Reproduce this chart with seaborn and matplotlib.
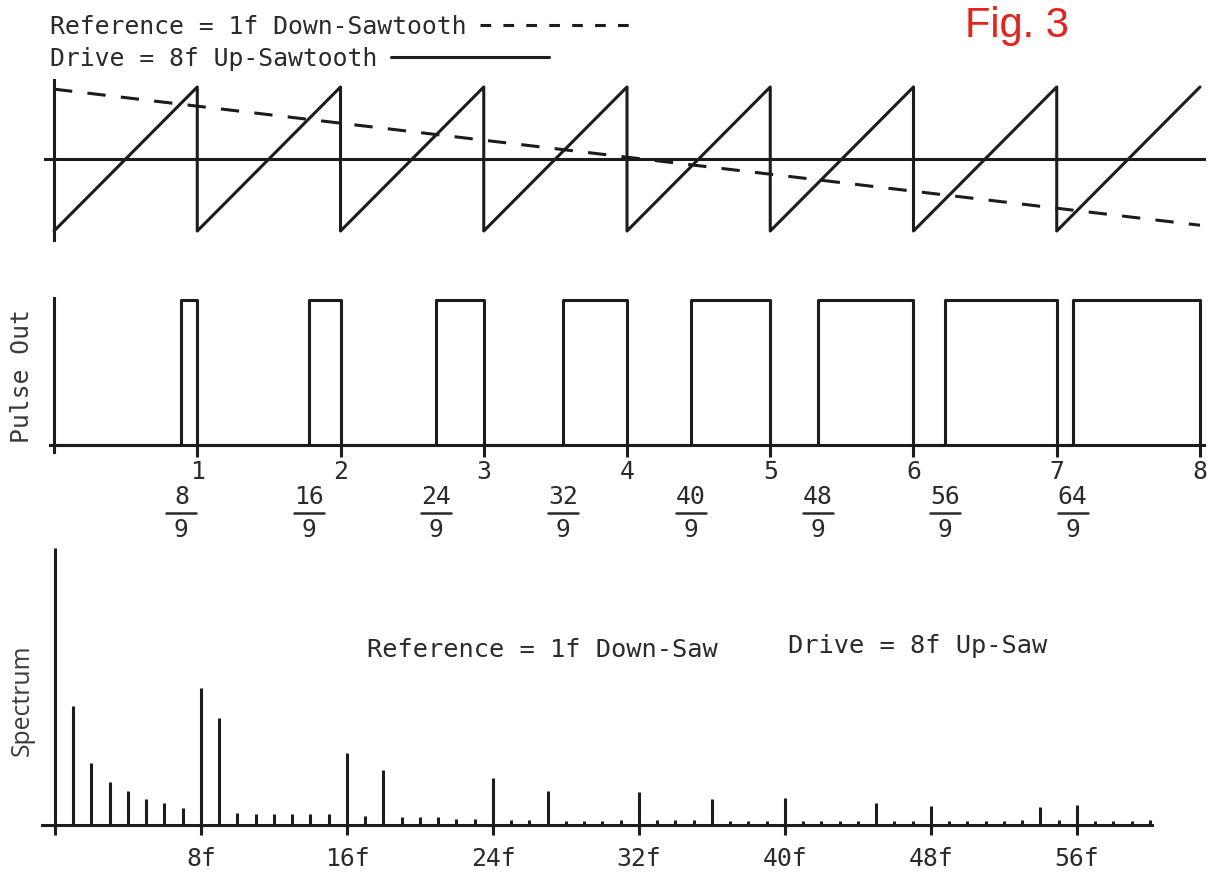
import numpy as np
import pandas as pd
import matplotlib
matplotlib.use("Agg")
import matplotlib.pyplot as plt
import seaborn as sns
from matplotlib.lines import Line2D
from matplotlib.transforms import blended_transform_factory

# ---------------- data ----------------
cycle_edges = [0, 1, 2, 3, 4, 5, 6, 7, 8]      # drive (8f up-saw) cycle boundaries
drive_low = -1.0
drive_high = 1.0
ref_x = [0, 8]                                  # reference (1f down-saw)
ref_y = [0.97, -0.92]

pulse_start = [8/9, 16/9, 24/9, 32/9, 40/9, 48/9, 56/9, 64/9]
pulse_end = [1, 2, 3, 4, 5, 6, 7, 8]
pulse_ticks = [1, 2, 3, 4, 5, 6, 7, 8]
frac_num = ["8", "16", "24", "32", "40", "48", "56", "64"]
frac_den = ["9", "9", "9", "9", "9", "9", "9", "9"]

harmonic = list(range(0, 61))
amplitude = [1.00, 0.43, 0.224, 0.155, 0.123, 0.094, 0.079, 0.061,
             0.495, 0.386, 0.043, 0.040, 0.040, 0.040, 0.040, 0.040,
             0.260, 0.033, 0.199, 0.030, 0.030, 0.028, 0.022, 0.020,
             0.170, 0.018, 0.018, 0.123, 0.016, 0.016, 0.016, 0.018,
             0.119, 0.018, 0.018, 0.018, 0.094, 0.016, 0.016, 0.016,
             0.097, 0.016, 0.016, 0.016, 0.016, 0.079, 0.016, 0.016,
             0.069, 0.016, 0.016, 0.016, 0.016, 0.018, 0.065, 0.018,
             0.072, 0.016, 0.016, 0.016, 0.018]
spec_ticks = [0, 8, 16, 24, 32, 40, 48, 56]
spec_labels = ["", "8f", "16f", "24f", "32f", "40f", "48f", "56f"]

legend_labels = ["Reference = 1f Down-Sawtooth", "Drive = 8f Up-Sawtooth"]
spectrum_note_ref = "Reference = 1f Down-Saw"
spectrum_note_drv = "Drive = 8f Up-Saw"

# ---------------- style ----------------
sns.set_theme(style="white")
MONO = ["DejaVu Sans Mono"]
plt.rcParams["font.family"] = MONO
INK = "#1c1c1c"
TXT = "#2a2a2a"
LW = 2.2
FS = 17.8

W, H = 1216, 876
fig = plt.figure(figsize=(W / 100, H / 100), dpi=100)
fig.patch.set_facecolor("white")


def rect(left, top, right, bottom):
    return [left / W, 1 - bottom / H, (right - left) / W, (bottom - top) / H]


# ---------------- top: waveforms ----------------
ax1 = fig.add_axes(rect(44, 80, 1206, 240))
saw_x, saw_y = [], []
for a, b in zip(cycle_edges[:-1], cycle_edges[1:]):
    saw_x += [a, b]
    saw_y += [drive_low, drive_high]
saw_df = pd.DataFrame({"x": saw_x, "y": saw_y})
sns.lineplot(data=saw_df, x="x", y="y", sort=False, estimator=None,
             color=INK, lw=LW, ax=ax1)
ref_df = pd.DataFrame({"x": ref_x, "y": ref_y})
sns.lineplot(data=ref_df, x="x", y="y", sort=False, estimator=None,
             color=INK, lw=LW, ax=ax1, linestyle=(0, (6, 5)))
ax1.axhline(0, color=INK, lw=LW)
ax1.set_xlim(-0.07, 8.042)
ax1.set_ylim(-1.125, 1.097)
for s in ["top", "right", "bottom"]:
    ax1.spines[s].set_visible(False)
ax1.spines["left"].set_position(("data", 0))
ax1.spines["left"].set_color(INK)
ax1.spines["left"].set_linewidth(LW)
ax1.set_xticks([])
ax1.set_yticks([])
ax1.set_xlabel("")
ax1.set_ylabel("")
ax1.patch.set_alpha(0)

# legend rows: text first, line sample after it
legend_styles = [(0, (3.5, 4)), "-"]
legend_tops = [15, 47]
for lab, ls, top in zip(legend_labels, legend_styles, legend_tops):
    h = Line2D([], [], color=INK, lw=LW, linestyle=ls)
    fig.legend([h], [lab], loc="upper left",
               bbox_to_anchor=(50 / W, 1 - top / H), frameon=False,
               markerfirst=False, handlelength=6.4, handletextpad=0.55,
               borderpad=0, borderaxespad=0,
               prop={"family": MONO, "size": FS}, labelcolor=TXT)

fig.text(1017 / W, 1 - 26 / H, "Fig. 3", color="#e8221b",
         fontsize=30, family=["Liberation Sans"], ha="center", va="center")

# ---------------- middle: pulse out ----------------
ax2 = fig.add_axes(rect(44, 298, 1206, 452))
px, py = [0], [0]
for s, e in zip(pulse_start, pulse_end):
    px += [s, s, e, e]
    py += [0, 1, 1, 0]
pulse_df = pd.DataFrame({"x": px, "y": py})
sns.lineplot(data=pulse_df, x="x", y="y", sort=False, estimator=None,
             color=INK, lw=LW, ax=ax2)
ax2.set_xlim(-0.07, 8.042)
ax2.set_ylim(-0.048, 1.014)
ax2.spines["top"].set_visible(False)
ax2.spines["right"].set_visible(False)
ax2.spines["left"].set_position(("data", 0))
ax2.spines["bottom"].set_position(("data", 0))
ax2.spines["bottom"].set_bounds(-0.03, 8.03)
for s in ["left", "bottom"]:
    ax2.spines[s].set_color(INK)
    ax2.spines[s].set_linewidth(LW)
ax2.set_xticks(pulse_ticks)
ax2.set_xticklabels([str(t) for t in pulse_ticks])
ax2.set_yticks([])
ax2.tick_params(axis="x", direction="out", length=8.5, width=LW, color=INK,
                pad=2, labelsize=FS, labelcolor=TXT, bottom=True)
ax2.set_xlabel("")
ax2.set_ylabel("")
ax2.patch.set_alpha(0)
fig.text(22 / W, 1 - 376 / H, "Pulse Out", rotation=90, ha="center",
         va="center", fontsize=FS, color="#3a3a3a", family=MONO)

# fraction labels at the pulse starts
tr = blended_transform_factory(ax2.transData, fig.transFigure)
for xs, n, d in zip(pulse_start, frac_num, frac_den):
    ax2.text(xs, 1 - 497 / H, n, transform=tr, ha="center", va="center",
             fontsize=FS, color=TXT, family=MONO)
    ax2.text(xs, 1 - 530 / H, d, transform=tr, ha="center", va="center",
             fontsize=FS, color=TXT, family=MONO)
    ax2.add_line(Line2D([xs - 0.105, xs + 0.105], [1 - 513 / H, 1 - 513 / H],
                        transform=tr, color=TXT, lw=1.8, clip_on=False))

# ---------------- bottom: spectrum ----------------
ax3 = fig.add_axes(rect(42, 548, 1152, 825))
ax3.vlines(harmonic, 0, amplitude, color=INK, lw=LW)
ax3.set_xlim(-0.712, 60.11)
ax3.set_ylim(0, 1.0)
for s in ["top", "right", "left"]:
    ax3.spines[s].set_visible(False)
ax3.spines["bottom"].set_color(INK)
ax3.spines["bottom"].set_linewidth(LW)
ax3.set_xticks(spec_ticks)
ax3.set_xticklabels(spec_labels)
ax3.set_yticks([])
ax3.tick_params(axis="x", direction="out", length=7.5, width=LW, color=INK,
                pad=8, labelsize=FS, labelcolor=TXT, bottom=True)
ax3.patch.set_alpha(0)
ax3.text(0.2928, 0.632, spectrum_note_ref, transform=ax3.transAxes,
         fontsize=18.3, color=TXT, family=MONO, ha="left", va="center")
ax3.text(0.672, 0.646, spectrum_note_drv, transform=ax3.transAxes,
         fontsize=18.3, color=TXT, family=MONO, ha="left", va="center")
fig.text(22 / W, 1 - 700 / H, "Spectrum", rotation=90, ha="center",
         va="center", fontsize=FS, color="#3a3a3a", family=["Open Sans"])

fig.savefig("out.png", dpi=100, facecolor="white")
